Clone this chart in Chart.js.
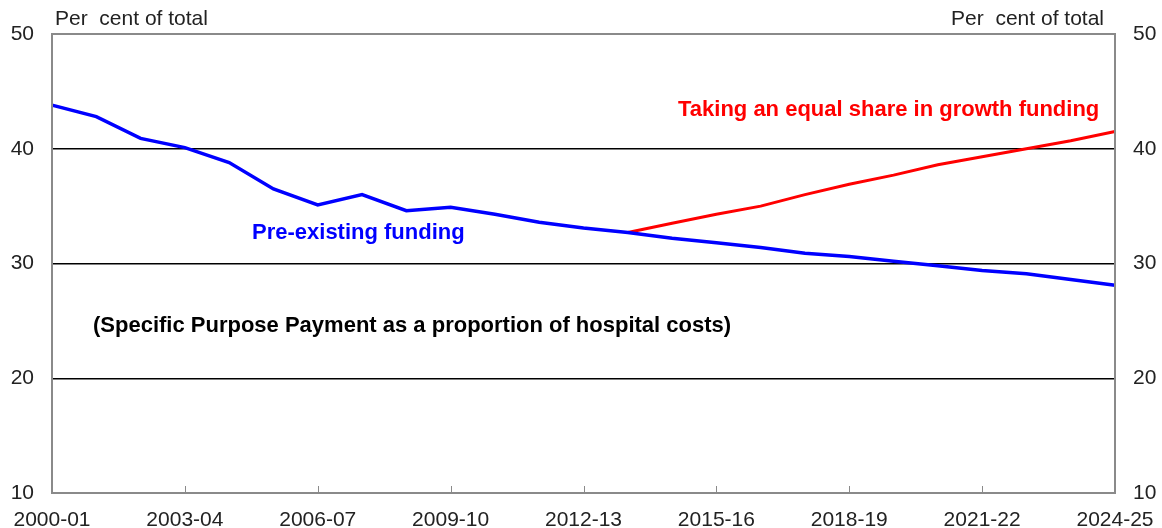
<!DOCTYPE html>
<html>
<head>
<meta charset="utf-8">
<script src="https://cdn.jsdelivr.net/npm/chart.js@4.4.1/dist/chart.umd.min.js"></script>
<style>
html,body{margin:0;padding:0;background:#fff;}
#wrap{width:1162px;height:528px;position:relative;}
</style>
</head>
<body>
<div id="wrap"><canvas id="c" width="1162" height="528"></canvas></div>
<script>
const years = ["2000-01","2001-02","2002-03","2003-04","2004-05","2005-06","2006-07","2007-08","2008-09","2009-10","2010-11","2011-12","2012-13","2013-14","2014-15","2015-16","2016-17","2017-18","2018-19","2019-20","2020-21","2021-22","2022-23","2023-24","2024-25"];
const preExisting = [43.8,42.8,40.9,40.1,38.8,36.5,35.1,36.0,34.6,34.9,34.3,33.6,33.1,32.7,32.2,31.8,31.4,30.9,30.6,30.2,29.8,29.4,29.1,28.6,28.1];
const equalShare = [null,null,null,null,null,null,null,null,null,null,null,null,null,32.7,33.5,34.3,35.0,36.0,36.9,37.7,38.6,39.3,40.0,40.7,41.5];
const yTicks = [10,20,30,40,50];
const shownYearLabels = ["2000-01","2003-04","2006-07","2009-10","2012-13","2015-16","2018-19","2021-22","2024-25"];

const FONT = "'Liberation Sans', Arial, sans-serif";
const TXT = "#222";

const decor = {
  id:'decor',
  afterDraw(chart){
    const ctx = chart.ctx, a = chart.chartArea, xs = chart.scales.x;
    ctx.save();
    ctx.strokeStyle = '#8a8a8a';
    ctx.lineWidth = 2;
    ctx.strokeRect(a.left, a.top, a.right - a.left, a.bottom - a.top);
    ctx.lineWidth = 1;
    shownYearLabels.forEach(l => {
      const x = Math.round(xs.getPixelForValue(years.indexOf(l))) + 0.5;
      ctx.beginPath(); ctx.moveTo(x, a.bottom); ctx.lineTo(x, a.bottom - 7); ctx.stroke();
    });
    ctx.textBaseline = 'middle';
    ctx.font = "21px " + FONT;
    ctx.fillStyle = TXT;
    ctx.textAlign = 'left';
    ctx.fillText("Per  cent of total", 55, 19);
    ctx.textAlign = 'right';
    ctx.fillText("Per  cent of total", 1104, 19);
    ctx.font = "bold 22px " + FONT;
    ctx.textAlign = 'left';
    ctx.fillStyle = '#0000ff';
    ctx.fillText("Pre-existing funding", 252, 233);
    ctx.fillStyle = '#ff0000';
    ctx.fillText("Taking an equal share in growth funding", 678, 110);
    ctx.fillStyle = '#000';
    ctx.fillText("(Specific Purpose Payment as a proportion of hospital costs)", 93, 326);
    ctx.restore();
  }
};

new Chart(document.getElementById('c'), {
  type: 'line',
  data: {
    labels: years,
    datasets: [
      {label:'Pre-existing funding', data: preExisting, borderColor:'#0000ff', borderWidth:3.5, pointRadius:0, tension:0, fill:false},
      {label:'Taking an equal share in growth funding', data: equalShare, borderColor:'#ff0000', borderWidth:3, pointRadius:0, tension:0, fill:false, spanGaps:false}
    ]
  },
  options: {
    responsive:false,
    animation:false,
    devicePixelRatio:1,
    layout:{padding:{top:34, left:0, right:0, bottom:0}},
    plugins:{legend:{display:false}, tooltip:{enabled:false}},
    scales:{
      x:{
        type:'category',
        offset:false,
        grid:{display:false, drawTicks:false},
        border:{display:false},
        afterFit(s){ s.height = 35; s.paddingLeft = 0; s.paddingRight = 0; },
        ticks:{
          autoSkip:false, maxRotation:0, minRotation:0, padding:15,
          color:TXT, font:{family:FONT, size:21},
          callback(v){ const l = years[v]; return shownYearLabels.includes(l) ? l : ''; }
        }
      },
      y:{
        position:'left', min:10, max:50,
        afterFit(s){ s.width = 52; },
        afterBuildTicks(s){ s.ticks = yTicks.map(v=>({value:v})); },
        grid:{drawTicks:false, color(c){ return (c.tick && (c.tick.value===10||c.tick.value===50)) ? 'rgba(0,0,0,0)' : '#000'; }, lineWidth:1.5},
        border:{display:false},
        ticks:{padding:18, color:TXT, font:{family:FONT, size:21}}
      },
      y2:{
        position:'right', min:10, max:50,
        afterFit(s){ s.width = 47; },
        afterBuildTicks(s){ s.ticks = yTicks.map(v=>({value:v})); },
        grid:{display:false, drawTicks:false},
        border:{display:false},
        ticks:{padding:18, color:TXT, font:{family:FONT, size:21}}
      }
    }
  },
  plugins:[decor]
});
</script>
</body>
</html>
